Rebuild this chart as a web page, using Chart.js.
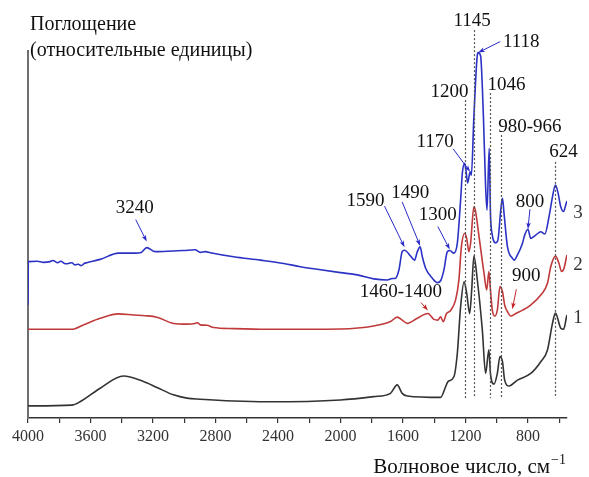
<!DOCTYPE html>
<html>
<head>
<meta charset="utf-8">
<script src="https://cdn.jsdelivr.net/npm/chart.js@4.4.1/dist/chart.umd.min.js"></script>
<style>
  html, body { margin: 0; padding: 0; background: #fff; }
  canvas { display: block; }
</style>
</head>
<body>
<canvas id="ir" width="589" height="477"></canvas>
<script>
// IR spectra: wavenumber, cm-1, and absorbance, relative units
const wn1 = [4000, 3720, 3667, 3538, 3389, 3261, 3175, 3069, 2983, 2897, 2684, 2470, 2000, 1787, 1680, 1637, 1605, 1572,
  1359, 1327, 1312, 1274, 1252, 1231, 1209, 1192, 1173, 1160, 1146, 1124, 1092, 1071, 1050, 1040, 1017, 996, 979, 963,
  949, 921, 867, 782, 718, 675, 643, 624, 590, 572, 553, 550];
const abs1 = [3.3, 3.5, 4.4, 8.1, 11.4, 9.9, 8.3, 6.3, 5.4, 5.1, 4.6, 4.4, 4.9, 5.8, 6.7, 9.0, 6.7, 6.0,
  5.6, 8.5, 9.9, 11.2, 17.6, 30.2, 37.0, 33.9, 28.4, 34.8, 44.0, 37.5, 23.9, 12.1, 18.5, 12.1, 9.2, 12.1, 16.7, 15.3,
  10.3, 8.7, 10.3, 12.1, 15.3, 18.5, 25.7, 28.5, 24.4, 24.1, 27.5, 28.0];

const wn2 = [4000, 3720, 3646, 3538, 3421, 3325, 3250, 3175, 3069, 2983, 2930, 2915, 2897, 2855, 2812, 2684, 2470, 2000,
  1787, 1680, 1637, 1605, 1572, 1508, 1440, 1402, 1376, 1359, 1342, 1321, 1295, 1263, 1242, 1226, 1205, 1192, 1178, 1167,
  1146, 1135, 1113, 1081, 1064, 1050, 1040, 1028, 1013, 996, 979, 963, 949, 931, 910, 878, 835, 782, 718, 675, 654, 624,
  601, 585, 569, 553, 550];
const abs2 = [24.1, 24.1, 25.3, 27.1, 28.3, 28.0, 27.8, 27.4, 25.7, 25.5, 25.7, 25.9, 25.3, 25.2, 24.6, 24.3, 24.1, 24.2,
  25.0, 26.2, 27.4, 26.6, 25.7, 27.1, 28.4, 26.8, 26.6, 27.5, 26.2, 28.4, 29.2, 32.1, 37.5, 46.5, 50.2, 48.8, 45.2, 47.5,
  57.4, 56.1, 49.3, 39.3, 34.8, 39.8, 34.8, 29.3, 27.7, 29.3, 35.7, 34.3, 30.7, 28.9, 27.7, 28.4, 29.3, 30.7, 33.4, 36.6, 41.1, 44.0,
  42.0, 39.8, 40.7, 43.8, 44.3];

const wn3 = [4000, 3998, 3940, 3900, 3859, 3840, 3810, 3790, 3760, 3740, 3720, 3700, 3678, 3660, 3640, 3624, 3538, 3421,
  3314, 3275, 3240, 3186, 3069, 3005, 2930, 2897, 2865, 2833, 2684, 2513, 2363, 2256, 2149, 2000, 1893, 1787, 1701, 1669,
  1647, 1626, 1605, 1590, 1551, 1526, 1508, 1490, 1476, 1455, 1412, 1380, 1359, 1338, 1316, 1300, 1274, 1252, 1231, 1220,
  1205, 1197, 1186, 1170, 1162, 1146, 1124, 1118, 1103, 1085, 1071, 1062, 1048, 1040, 1028, 1006, 992, 974, 963, 953,
  931, 899, 889, 867, 835, 821, 800, 782, 750, 718, 692, 665, 643, 624, 607, 590, 572, 558, 550];
const abs3 = [30.7, 42.5, 42.6, 42.3, 42.5, 42.8, 42.2, 42.6, 41.9, 42.0, 42.2, 41.6, 41.8, 41.4, 42.0, 42.2, 43.1, 44.8,
  44.8, 45.0, 46.3, 45.2, 45.4, 45.5, 45.7, 45.0, 45.2, 44.9, 43.8, 42.9, 42.0, 41.1, 40.4, 39.5, 38.9, 37.8, 37.5, 37.9,
  38.0, 40.2, 45.2, 45.6, 44.0, 42.9, 45.2, 46.5, 43.8, 40.7, 38.0, 36.8, 37.3, 40.2, 45.2, 45.5, 44.8, 47.5, 59.2, 66.5,
  69.2, 67.4, 63.9, 66.9, 66.0, 81.9, 98.6, 99.3, 98.4, 81.9, 62.9, 56.5, 73.3, 55.6, 49.7, 47.6, 48.4, 56.5, 59.7, 55.6,
  46.5, 43.4, 42.9, 44.3, 47.5, 49.7, 51.3, 48.8, 49.7, 50.6, 50.0, 54.7, 60.1, 63.3, 61.1, 57.4, 56.1, 57.9, 59.0];

const xTickLabels = [4000, 3600, 3200, 2800, 2400, 2000, 1600, 1200, 800];

// bands marked by dotted verticals
const lineBands = ['1200', '1145', '1046', '980-966', '624'];
const lineBandWn = [1200, 1145, 1046, 973, 624];

// bands marked by arrows, and the spectrum (1..3) each one points at
const arrowBands = ['3240', '1590', '1490', '1300', '1170', '1118', '800', '1460-1400', '900'];
const arrowBandWn = [3240, 1590, 1490, 1300, 1170, 1118, 800, 1440, 900];
const arrowSpectrum = [3, 3, 3, 3, 3, 3, 3, 2, 2];

const spectra = [
  { wn: wn1, abs: abs1, color: '#333333' },
  { wn: wn2, abs: abs2, color: '#c0393b' },
  { wn: wn3, abs: abs3, color: '#2b32c4' }
];

function absAt(s, w) {
  for (let i = 0; i < s.wn.length - 1; i++) {
    if (s.wn[i] >= w && s.wn[i + 1] <= w) {
      const t = (s.wn[i] - w) / (s.wn[i] - s.wn[i + 1]);
      return s.abs[i] + t * (s.abs[i + 1] - s.abs[i]);
    }
  }
  return s.abs[s.abs.length - 1];
}

const SERIF = '"Liberation Serif", "Times New Roman", serif';

// where each dotted line starts (absorbance) and where its label sits, px from the line top
const linePlace = [
  { top: 86.4, dx: -16, dy: -8 },
  { top: 105.4, dx: -2, dy: -9 },
  { top: 88.3, dx: 17, dy: -8 },
  { top: 76.9, dx: 29, dy: -8 },
  { top: 69.6, dx: 8, dy: -10 }
];
const lineBottom = 5.4;

// arrow tip lift, tail and label offsets in px, relative to the tip
const arrowPlace = [
  { lift: -6, tx: -11, ty: -22, lx: -12, ly: -34 },
  { lift: -3, tx: -20, ty: -41, lx: -39, ly: -46 },
  { lift: -1, tx: -18, ty: -44, lx: -10, ly: -53 },
  { lift: -1, tx: -12, ty: -23, lx: -12, ly: -35 },
  { lift: 0, tx: -17, ty: -23, lx: -35, ly: -30 },
  { lift: 0, tx: 22, ty: -11, lx: 43, ly: -11 },
  { lift: 0, tx: 2, ty: -20, lx: 2, ly: -27 },
  { lift: -3, tx: -7, ty: -8, lx: -27, ly: -18 },
  { lift: -6, tx: 4, ty: -20, lx: 14, ly: -33 }
];

function drawArrow(ctx, x0, y0, x1, y1, color) {
  const a = Math.atan2(y1 - y0, x1 - x0);
  ctx.strokeStyle = color;
  ctx.fillStyle = color;
  ctx.lineWidth = 1;
  ctx.beginPath();
  ctx.moveTo(x0, y0);
  ctx.lineTo(x1 - 4 * Math.cos(a), y1 - 4 * Math.sin(a));
  ctx.stroke();
  ctx.beginPath();
  ctx.moveTo(x1, y1);
  ctx.lineTo(x1 - 7 * Math.cos(a - 0.33), y1 - 7 * Math.sin(a - 0.33));
  ctx.lineTo(x1 - 5 * Math.cos(a), y1 - 5 * Math.sin(a));
  ctx.lineTo(x1 - 7 * Math.cos(a + 0.33), y1 - 7 * Math.sin(a + 0.33));
  ctx.closePath();
  ctx.fill();
}

const decorations = {
  id: 'decorations',
  beforeDatasetsDraw(chart) {
    const { ctx, chartArea: a } = chart;
    ctx.save();
    ctx.strokeStyle = '#6f6f6f';
    ctx.lineWidth = 2;
    ctx.beginPath();
    ctx.moveTo(a.left, a.top);
    ctx.lineTo(a.left, a.bottom);
    ctx.stroke();
    ctx.restore();
  },
  afterDatasetsDraw(chart) {
    const { ctx, scales: { x, y } } = chart;
    ctx.save();
    ctx.strokeStyle = '#555';
    ctx.lineWidth = 1.2;
    ctx.setLineDash([2, 2]);
    lineBandWn.forEach((w, i) => {
      const px = Math.round(x.getPixelForValue(w)) + 0.5;
      ctx.beginPath();
      ctx.moveTo(px, y.getPixelForValue(linePlace[i].top));
      ctx.lineTo(px, y.getPixelForValue(lineBottom));
      ctx.stroke();
    });
    ctx.restore();
  },
  afterDraw(chart) {
    const { ctx, scales: { x, y } } = chart;
    ctx.save();
    ctx.fillStyle = '#111';
    ctx.textAlign = 'left';
    ctx.textBaseline = 'alphabetic';
    ctx.font = '20px ' + SERIF;
    ctx.fillText('Поглощение', 30, 30);
    ctx.fillText('(относительные единицы)', 30, 56);

    // x axis title with superscript
    const main = 'Волновое число, см';
    const sup = '\u22121';
    ctx.font = '21px ' + SERIF;
    const wMain = ctx.measureText(main).width;
    ctx.font = '14px ' + SERIF;
    const wSup = ctx.measureText(sup).width;
    const x0 = 565 - wMain - wSup;
    ctx.font = '21px ' + SERIF;
    ctx.fillText(main, x0, 473);
    ctx.font = '14px ' + SERIF;
    ctx.fillText(sup, x0 + wMain + 1, 464);

    ctx.font = '19px ' + SERIF;
    ctx.textAlign = 'center';
    ctx.textBaseline = 'middle';

    // labels above the dotted lines
    lineBandWn.forEach((w, i) => {
      const p = linePlace[i];
      ctx.fillStyle = '#111';
      ctx.fillText(lineBands[i], x.getPixelForValue(w) + p.dx, y.getPixelForValue(p.top) + p.dy);
    });

    // arrows pointing at bands
    arrowBandWn.forEach((w, i) => {
      const s = spectra[arrowSpectrum[i] - 1];
      const p = arrowPlace[i];
      const tx = x.getPixelForValue(w);
      const ty = y.getPixelForValue(absAt(s, w)) + p.lift;
      drawArrow(ctx, tx + p.tx, ty + p.ty, tx, ty, arrowSpectrum[i] === 3 ? '#2a2ac8' : '#c62828');
      ctx.fillStyle = '#111';
      ctx.fillText(arrowBands[i], tx + p.lx, ty + p.ly);
    });

    // spectrum numbers at the right end
    ctx.fillStyle = '#333';
    [318, 265, 213].forEach((ny, i) => ctx.fillText(String(i + 1), 578, ny));
    ctx.restore();
  }
};

new Chart(document.getElementById('ir'), {
  type: 'line',
  data: {
    datasets: spectra.map((s, i) => ({
      label: String(i + 1),
      data: s.wn.map((w, k) => ({ x: w, y: s.abs[k] })),
      borderColor: s.color,
      borderWidth: 1.6,
      pointRadius: 0,
      cubicInterpolationMode: 'monotone',
      fill: false
    }))
  },
  options: {
    responsive: false,
    animation: false,
    devicePixelRatio: 1,
    layout: { padding: { top: 50, left: 28, right: 22, bottom: 0 } },
    plugins: { legend: { display: false }, tooltip: { enabled: false }, title: { display: false } },
    scales: {
      x: {
        type: 'linear',
        reverse: true,
        min: 550,
        max: 4000,
        afterBuildTicks(scale) {
          const t = [];
          for (let w = 4000; w >= 600; w -= 200) t.push({ value: w });
          scale.ticks = t;
        },
        afterFit(scale) { scale.height = 59; },
        border: { display: true, color: '#333', width: 1.5 },
        grid: { display: true, drawOnChartArea: false, drawTicks: true, tickLength: 5, color: '#333', lineWidth: 1.2 },
        ticks: {
          autoSkip: false,
          maxRotation: 0,
          padding: 4,
          color: '#333',
          font: { family: SERIF, size: 16 },
          callback: (v) => xTickLabels.includes(v) ? String(v) : ''
        }
      },
      y: { display: false, min: 0, max: 100 }
    }
  },
  plugins: [decorations]
});
</script>
</body>
</html>
